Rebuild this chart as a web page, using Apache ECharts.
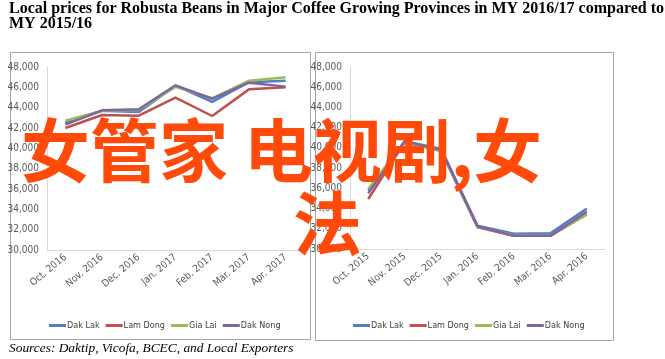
<!DOCTYPE html>
<html><head><meta charset="utf-8">
<script src="https://cdn.jsdelivr.net/npm/echarts@6/dist/echarts.min.js"></script>
<style>html,body{margin:0;padding:0;background:#fff}#c{width:665px;height:359px}</style>
</head><body><div id="c"></div>
<script>
const catsLeft = ['Oct. 2016','Nov. 2016','Dec. 2016','Jan. 2017','Feb. 2017','Mar. 2017','Apr. 2017'];
const catsRight = ['Oct. 2015','Nov. 2015','Dec. 2015','Jan. 2016','Feb. 2016','Mar. 2016','Apr. 2016'];
const seriesNames = ['Dak Lak','Lam Dong','Gia Lai','Dak Nong'];
const seriesColors = ['#4F81BD','#C0504D','#9BBB59','#8064A2'];
// MY 2016/17
const dakLak17  = [42520, 43700, 43580, 46160, 44560, 46500, 46650];
const lamDong17 = [42000, 43280, 43210, 44980, 43180, 45800, 46000];
const giaLai17  = [42720, 43700, 43770, 46050, 44920, 46650, 47000];
const dakNong17 = [42330, 43740, 43840, 46200, 44880, 46460, 46070];
// MY 2015/16
const dakLak16  = [35750, 40650, 39900, 32300, 31500, 31550, 34000];
const lamDong16 = [34950, 40550, 39700, 32150, 31300, 31300, 33450];
const giaLai16  = [35950, 40600, 39750, 32200, 31350, 31350, 33400];
const dakNong16 = [35500, 40650, 39850, 32250, 31300, 31300, 33700];
const yTicks = [30000, 48000, 2000];
const titleText = 'Local prices for Robusta Beans in Major Coffee Growing Provinces in MY 2016/17 compared to\nMY 2015/16';
const sourceText = 'Sources: Daktip, Vicofa, BCEC, and Local Exporters';
const overlay1 = '女管家 电视剧,女';
const overlay2 = '法';

const narrow = "'DejaVu Sans', sans-serif";
const chart = echarts.init(document.getElementById('c'));

function yAx(idx){
  return {gridIndex: idx, type:'value', min: yTicks[0], max: yTicks[1], interval: yTicks[2],
    axisLine:{show:true, lineStyle:{color:'#D9D9D9', width:1}}, axisTick:{show:false}, splitLine:{show:false},
    axisLabel:{color:'#595959', fontFamily: narrow, fontStyle:'condensed', fontSize:10, margin:8,
      formatter: v => v.toLocaleString('en-US')}};
}
function xAx(idx, cats){
  return {gridIndex: idx, type:'category', data: cats, boundaryGap:true,
    axisLine:{show:true, lineStyle:{color:'#D9D9D9', width:1}}, axisTick:{show:false},
    axisLabel:{color:'#595959', fontFamily: narrow, fontStyle:'condensed', fontSize:10, rotate:40, margin:6, interval:0}};
}
const sets = [[dakLak17, lamDong17, giaLai17, dakNong17],[dakLak16, lamDong16, giaLai16, dakNong16]];
const series = [];
sets.forEach((set, g) => set.forEach((d, i) => series.push({
  name: seriesNames[i], type:'line', xAxisIndex:g, yAxisIndex:g, data:d,
  symbol:'none', lineStyle:{width:2.5, color:seriesColors[i]}, itemStyle:{color:seriesColors[i]},
  z: 3 + i
})));
function legendAt(left){
  return {data: seriesNames, left: left, top: 316, itemWidth:17, itemHeight:3, itemGap:6,
    icon:'rect', textStyle:{color:'#404040', fontFamily: narrow, fontStyle:'condensed', fontSize:9, padding:[0,0,0,-4]}};
}
chart.setOption({
  animation:false,
  backgroundColor:'#ffffff',
  grid:[{left:47, width:257, top:67, height:183},{left:350, width:255, top:67, height:182}],
  xAxis:[xAx(0, catsLeft), xAx(1, catsRight)],
  yAxis:[yAx(0), yAx(1)],
  legend:[legendAt(44), legendAt(348)],
  series: series,
  graphic:[
    {type:'rect', shape:{x:10.5, y:52.5, width:300, height:287}, style:{fill:'none', stroke:'#A6A6A6', lineWidth:1}, z:-1},
    {type:'rect', shape:{x:315.5, y:52.5, width:298, height:288}, style:{fill:'none', stroke:'#A6A6A6', lineWidth:1}, z:-1},
    {type:'text', left:9, top:1, style:{text:titleText, font:"bold 16px 'Liberation Serif', serif", fill:'#000', lineHeight:15}},
    {type:'text', left:9, top:342, style:{text:sourceText, font:"italic 13.4px 'Liberation Serif', serif", fill:'#000'}},
    {type:'text', x:21, y:151, z:100, style:{text:overlay1, font:"bold 69px 'Noto Sans CJK SC'", fill:'#FF4A0A', textVerticalAlign:'middle'}},
    {type:'text', x:293, y:224, z:100, style:{text:overlay2, font:"bold 69px 'Noto Sans CJK SC'", fill:'#FF4A0A', textVerticalAlign:'middle'}}
  ]
});
</script></body></html>
